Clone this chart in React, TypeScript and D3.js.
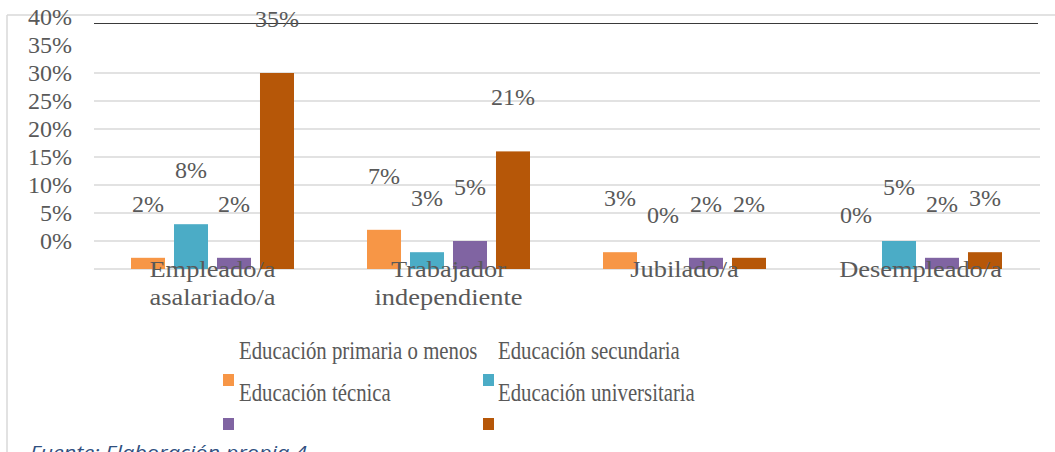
import React from "react";
import * as d3 from "d3";

const categories = [["Empleado/a", "asalariado/a"], ["Trabajador", "independiente"], ["Jubilado/a"], ["Desempleado/a"]];
const seriesNames = ["Educación primaria o menos", "Educación secundaria", "Educación técnica", "Educación universitaria"];
const primaria = [0.02, 0.07, 0.03, 0.0];
const secundaria = [0.08, 0.03, 0.0, 0.05];
const tecnica = [0.02, 0.05, 0.02, 0.02];
const universitaria = [0.35, 0.21, 0.02, 0.03];
const yTicks = [0, 0.05, 0.1, 0.15, 0.2, 0.25, 0.3, 0.35, 0.4];
const gridTicks = [0, 0.05, 0.1, 0.15, 0.2, 0.25, 0.3, 0.35];
const colors = ["#F79646", "#4BACC6", "#8064A2", "#B65708"];
const footer = "Fuente: Elaboración propia 4";

const W = 1055, H = 452;
const serif = "'Liberation Serif', 'Times New Roman', serif";
const textColor = "#595959";

export default function App() {
  const series = [primaria, secundaria, tecnica, universitaria];
  const x0 = d3.scaleBand<number>().domain(d3.range(categories.length)).range([94.5, 1038.5]);
  const x1 = d3.scaleBand<number>().domain(d3.range(series.length)).range([0, x0.bandwidth()])
    .paddingInner(0.209).paddingOuter(0.849);
  const y = d3.scaleLinear().domain([0, 0.45]).range([269, 17]);
  const fmt = d3.format(".0%");

  return (
    <svg width={W} height={H} style={{ display: "block", position: "absolute", left: 0, top: 0 }}>
      <rect x={0} y={0} width={W} height={H} fill="#fff" />
      {/* frame */}
      <line x1={7} x2={W} y1={15} y2={15} stroke="#d9d9d9" strokeWidth={1.5} />
      <line x1={7} x2={7} y1={15} y2={H} stroke="#d9d9d9" strokeWidth={1.5} />
      {/* gridlines */}
      {gridTicks.map((t, i) => (
        <line key={i} x1={94} x2={1040} y1={y(t)} y2={y(t)} stroke="#d9d9d9" strokeWidth={1.5} />
      ))}
      <line x1={94} x2={1038} y1={23.5} y2={23.5} stroke="#3a3a3a" strokeWidth={1} />
      {/* y tick labels (offset by one step) */}
      {yTicks.map((t, i) => (
        <text key={i} x={72} y={y(t + 0.05) + 8} textAnchor="end" fontFamily={serif} fontSize={24} fill={textColor}>
          {fmt(t)}
        </text>
      ))}
      {/* bars */}
      {categories.map((c, ci) => (
        <g key={ci} transform={`translate(${x0(ci)},0)`}>
          {series.map((s, si) => (
            <rect key={si} x={x1(si)} width={x1.bandwidth()} y={y(s[ci])} height={y(0) - y(s[ci])} fill={colors[si]} />
          ))}
          {series.map((s, si) => (
            <text key={"l" + si} x={(x1(si) as number) + x1.bandwidth() / 2} y={y(s[ci]) - 46}
              textAnchor="middle" fontFamily={serif} fontSize={24} fill={textColor}>
              {fmt(s[ci])}
            </text>
          ))}
        </g>
      ))}
      {/* category labels */}
      {categories.map((c, ci) => (
        <g key={ci} transform={`translate(${(x0(ci) as number) + x0.bandwidth() / 2},0)`}>
          {c.map((line, li) => (
            <text key={li} transform={`translate(0,${277 + li * 28}) scale(1.1,1)`} textAnchor="middle"
              fontFamily={serif} fontSize={24} fill={textColor}>
              {line}
            </text>
          ))}
        </g>
      ))}
      {/* legend (misaligned as in reference) */}
      {seriesNames.map((n, i) => {
        const col = i % 2, row = Math.floor(i / 2);
        const tx = col === 0 ? 239 : 498;
        return (
          <text key={i} transform={`translate(${tx},${359 + row * 42}) scale(0.8,1)`} fontFamily={serif}
            fontSize={26} fill={textColor}>
            {n}
          </text>
        );
      })}
      {colors.map((c, i) => {
        const col = i % 2, row = Math.floor(i / 2);
        return <rect key={i} x={col === 0 ? 223 : 483} y={374 + row * 44} width={11} height={12} fill={c} />;
      })}
      <text x={30} y={459} fontFamily="'Open Sans', 'Liberation Sans', sans-serif" fontStyle="italic" fontSize={18}
        fill="#2f4f7f" textLength={277} lengthAdjust="spacingAndGlyphs">
        {footer}
      </text>
    </svg>
  );
}
